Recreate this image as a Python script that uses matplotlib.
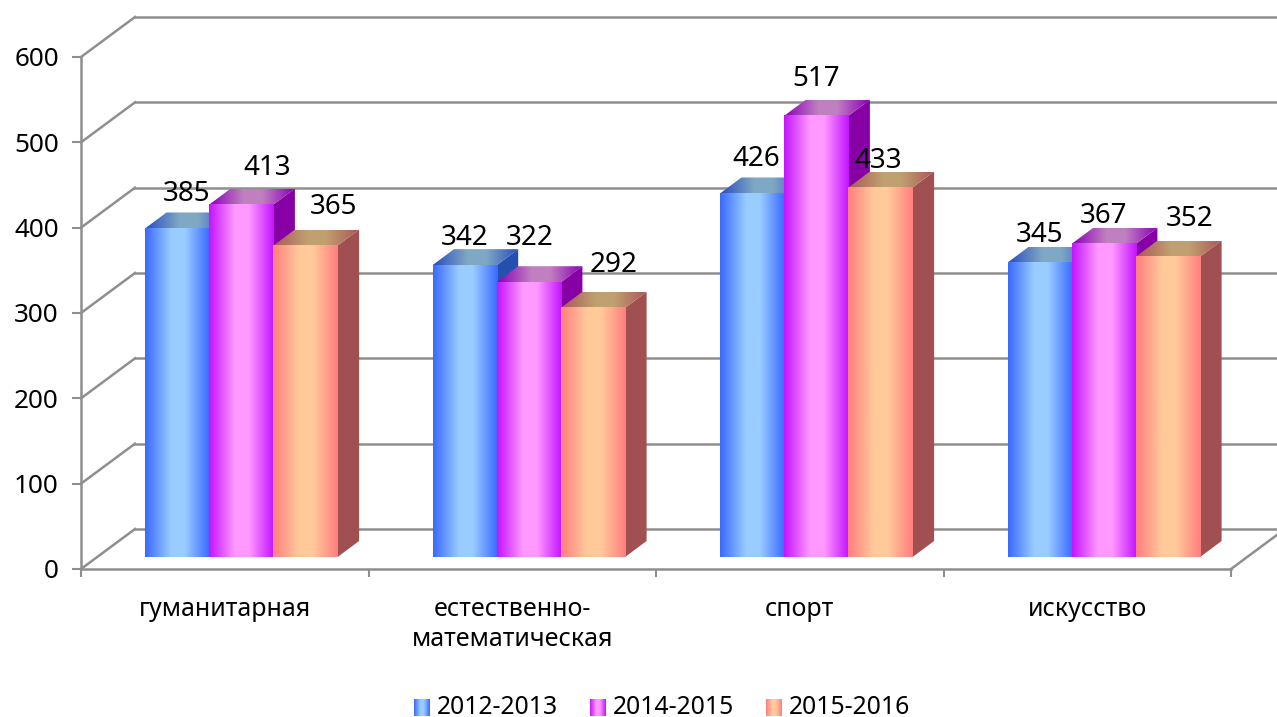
import numpy as np
import matplotlib
matplotlib.use('Agg')
from matplotlib import pyplot as plt
from matplotlib.colors import LinearSegmentedColormap
from matplotlib.patches import Polygon

plt.rcParams['font.family'] = ['Noto Sans', 'DejaVu Sans']

categorias = ['гуманитарная', 'естественно-\nматематическая', 'спорт', 'искусство']
series = ['2012-2013', '2014-2015', '2015-2016']
v2012 = [385, 342, 426, 345]
v2014 = [413, 322, 517, 367]
v2015 = [365, 292, 433, 352]
valores = [v2012, v2014, v2015]
ticks_y = [0, 100, 200, 300, 400, 500, 600]

# colores: borde, centro de la cara frontal, lado, tapa
frente = [('#3a69ff', '#99ccff'), ('#c414ff', '#ff99ff'), ('#ff7f7f', '#ffc999')]
lado = ['#2450b0', '#8600a6', '#a05050']
tapa = [('#2a4cc0', '#7fa8c4'), ('#8a00b8', '#c080c0'), ('#aa5858', '#c0a070')]
gris = '#8f8f8f'

# desplazamiento de etiquetas en pixeles respecto al centro de la tapa
off_x = [[10, 0, 4, 0], [26, 1, 0, 0], [28, 21, -2, 22]]
off_y = [[34, 27, 34, 28], [37, 44, 37, 28], [39, 43, 27, 38]]

W, H = 1277, 717
px_x = 1150 / 4      # pixeles por categoria
px_y = 512 / 600     # pixeles por unidad

fig = plt.figure(figsize=(W / 100, H / 100), dpi=100)
ax = fig.add_axes([81 / W, (H - 569) / H, 1150 / W, 512 / H])


def gradiente(borde, centro):
    return LinearSegmentedColormap.from_list('g', [(0, borde), (0.4, centro), (0.62, centro), (1, borde)])


grad = np.linspace(0, 1, 128).reshape(1, -1)
pared_x, pared_y = 54 / px_x, 40 / px_y
prof_x, prof_y = 21.5 / px_x, 16 / px_y
ancho = 64.2 / px_x
base = 12 / px_y
inicio = 64 / px_x

# pared del fondo
for v in ticks_y:
    ax.plot([0, pared_x], [v, v + pared_y], color=gris, lw=1.8, clip_on=False, zorder=1)
    ax.plot([pared_x, 4 + pared_x], [v + pared_y, v + pared_y], color=gris, lw=1.8, clip_on=False, zorder=1)
ax.plot([4, 4 + pared_x], [0, pared_y], color=gris, lw=1.8, clip_on=False, zorder=1)

z = 2
for c in range(len(categorias)):
    for s in range(len(series)):
        x0 = c + inicio + s * ancho
        x1 = x0 + ancho
        top = valores[s][c] + base
        # lado
        ax.add_patch(Polygon([(x1, base), (x1 + prof_x, base + prof_y), (x1 + prof_x, top + prof_y), (x1, top)],
                             fc=lado[s], ec='none', zorder=z, clip_on=False))
        # tapa
        poly = Polygon([(x0, top), (x0 + prof_x, top + prof_y), (x1 + prof_x, top + prof_y), (x1, top)],
                       transform=ax.transData)
        im = ax.imshow(grad, cmap=gradiente(*tapa[s]), aspect='auto', zorder=z + 0.1,
                       extent=[x0, x1 + prof_x, top, top + prof_y], interpolation='bilinear')
        im.set_clip_path(poly)
        # frente
        ax.imshow(grad, cmap=gradiente(*frente[s]), aspect='auto', zorder=z + 0.2,
                  extent=[x0, x1, base, top], interpolation='bilinear')
        ax.annotate(str(valores[s][c]), xy=((x0 + x1) / 2, top), xytext=(off_x[s][c] * 0.72, off_y[s][c] * 0.72),
                    textcoords='offset points', ha='center', va='center', fontsize=20, color='black',
                    zorder=50, annotation_clip=False)
        z += 1

ax.set_xlim(0, 4)
ax.set_ylim(0, 600)
ax.patch.set_alpha(0)
for lado_eje in ['top', 'right']:
    ax.spines[lado_eje].set_visible(False)
for lado_eje in ['left', 'bottom']:
    ax.spines[lado_eje].set_color(gris)
    ax.spines[lado_eje].set_linewidth(1.8)
    ax.spines[lado_eje].set_zorder(40)

ax.set_yticks(ticks_y)
ax.tick_params(axis='y', length=6.5, width=1.5, color=gris, labelsize=18.8, pad=9.5)
ax.set_xticks(range(5))
ax.set_xticklabels([])
ax.tick_params(axis='x', which='major', length=6, width=1.5, color=gris)
ax.set_xticks(np.arange(4) + 0.5, categorias, minor=True)
ax.tick_params(axis='x', which='minor', length=0, labelsize=18, pad=20)
for t in ax.get_xticklabels(minor=True):
    t.set_linespacing(1.3)

# leyenda
sw_x = [414, 590, 766]
for s in range(len(series)):
    a = fig.add_axes([sw_x[s] / W, (H - 716) / H, 16 / W, 17 / H])
    a.imshow(grad, cmap=gradiente(*frente[s]), aspect='auto', interpolation='bilinear')
    a.axis('off')
    fig.text((sw_x[s] + 23) / W, (H - 707) / H, series[s], fontsize=17.8, va='center', ha='left', color='black')

fig.savefig('out.png', dpi=100, facecolor='white')
